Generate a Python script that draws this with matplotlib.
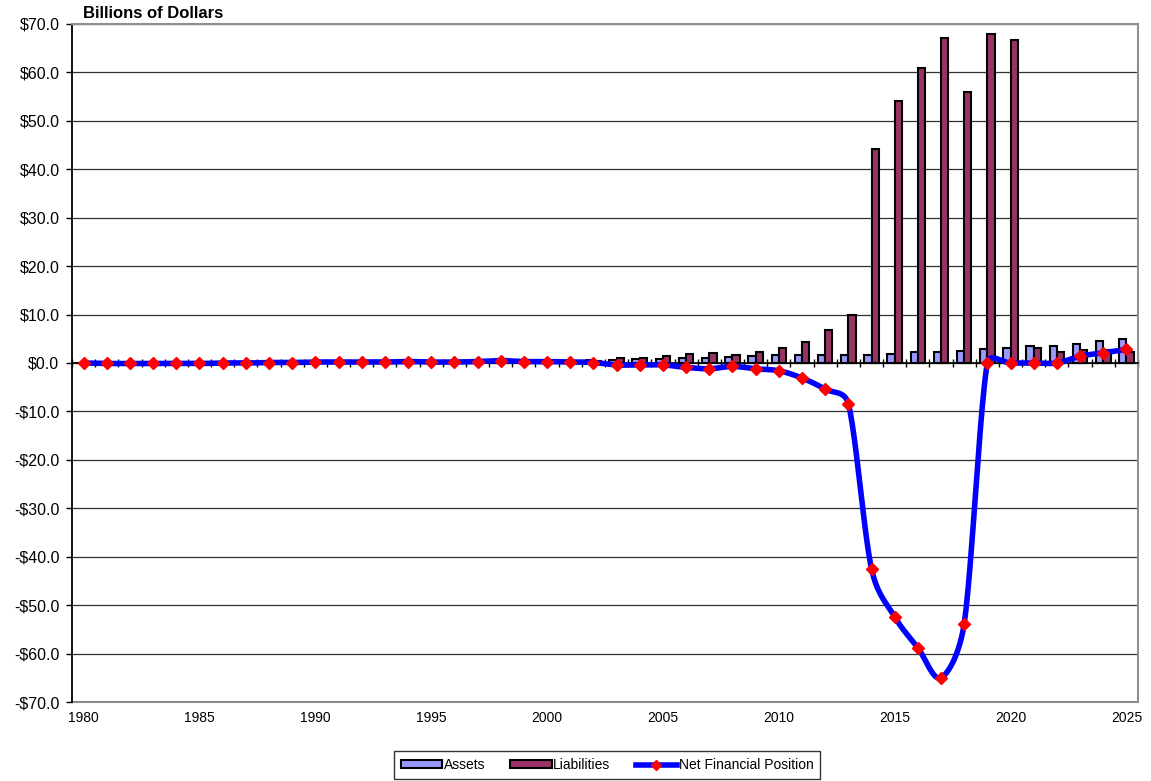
import numpy as np
import matplotlib
matplotlib.use('Agg')
import matplotlib.pyplot as plt
from matplotlib.ticker import FixedLocator, FuncFormatter
from matplotlib.patches import Patch
from matplotlib.lines import Line2D

plt.rcParams['font.family'] = ['Liberation Sans', 'DejaVu Sans']

years = list(range(1980, 2026))
assets = [0.1, 0.1, 0.1, 0.1, 0.1, 0.1, 0.1, 0.1, 0.1, 0.1,
          0.2, 0.2, 0.2, 0.2, 0.2, 0.2, 0.2, 0.3, 0.3, 0.3,
          0.4, 0.5, 0.6, 0.6, 0.75, 0.9, 1.0, 1.0, 1.2, 1.4,
          1.65, 1.65, 1.65, 1.65, 1.7, 1.9, 2.2, 2.2, 2.4, 2.8,
          3.0, 3.5, 3.5, 4.0, 4.5, 4.9]
liabilities = [0.1, 0.1, 0.1, 0.1, 0.1, 0.1, 0.1, 0.1, 0.1, 0.1,
               0.1, 0.1, 0.1, 0.1, 0.1, 0.1, 0.1, 0.1, 0.1, 0.1,
               0.2, 0.3, 0.5, 1.0, 1.0, 1.4, 1.9, 2.1, 1.65, 2.3,
               3.0, 4.4, 6.9, 10.0, 44.2, 54.2, 60.9, 67.2, 56.0, 67.9,
               66.7, 3.0, 2.3, 2.6, 2.6, 2.3]
net = [0.0, -0.1, -0.1, -0.1, -0.1, -0.1, 0.0, 0.0, 0.1, 0.1,
       0.2, 0.2, 0.2, 0.2, 0.3, 0.2, 0.2, 0.3, 0.5, 0.3,
       0.3, 0.2, 0.1, -0.4, -0.4, -0.4, -0.9, -1.2, -0.7, -1.2,
       -1.6, -3.1, -5.4, -8.4, -42.5, -52.4, -58.8, -65.0, -53.8, 0.0,
       0.0, 0.0, 0.0, 1.4, 2.1, 2.8]


def smooth(x, y, sx=23.17, sy=4.84, n=24):
    # bezier smoothing like excel's smoothed line, control arms capped at half a segment
    x = np.asarray(x, float) * sx
    y = np.asarray(y, float) * sy
    px = np.concatenate([[x[0]], x, [x[-1]]])
    py = np.concatenate([[y[0]], y, [y[-1]]])
    t = np.linspace(0, 1, n)
    ox, oy = [], []

    def arm(cx, cy, seg):
        L = np.hypot(cx, cy)
        if L > 0.5 * seg:
            k = 0.5 * seg / L
            return cx * k, cy * k
        return cx, cy

    for i in range(len(x) - 1):
        x0, y0 = px[i + 1], py[i + 1]
        x3, y3 = px[i + 2], py[i + 2]
        seg = np.hypot(x3 - x0, y3 - y0)
        c1x, c1y = arm((px[i + 2] - px[i]) / 6, (py[i + 2] - py[i]) / 6, seg)
        c2x, c2y = arm((px[i + 3] - px[i + 1]) / 6, (py[i + 3] - py[i + 1]) / 6, seg)
        x1, y1 = x0 + c1x, y0 + c1y
        x2, y2 = x3 - c2x, y3 - c2y
        bx = (1-t)**3*x0 + 3*(1-t)**2*t*x1 + 3*(1-t)*t**2*x2 + t**3*x3
        by = (1-t)**3*y0 + 3*(1-t)**2*t*y1 + 3*(1-t)*t**2*y2 + t**3*y3
        ox.extend(bx / sx)
        oy.extend(by / sy)
    return ox, oy


fig = plt.figure(figsize=(11.51, 7.81), dpi=100)
ax = fig.add_axes([72/1151, 1-702/781, (1138-72)/1151, (702-24)/781])

idx = np.arange(len(years))
bw = 0.315
ax.bar(idx - bw/2, assets, bw, color='#9999FF', edgecolor='black', linewidth=1.5, zorder=2)
ax.bar(idx + bw/2, liabilities, bw, color='#993366', edgecolor='black', linewidth=1.5, zorder=2)

sx, sy = smooth(idx, net)
ax.plot(sx, sy, color='#0000FF', lw=4, zorder=3, solid_capstyle='round')
ax.plot(idx, net, ls='none', marker='D', color='#FF0000', markersize=6.5, zorder=4)

ax.set_xlim(-0.5, len(years) - 0.5)
ax.set_ylim(-70, 70)
ax.set_yticks(np.arange(-70, 71, 10))
ax.yaxis.set_major_formatter(FuncFormatter(lambda v, p: ('-$%.1f' % -v) if v < 0 else '$%.1f' % v))
ax.yaxis.grid(True, color='#303030', lw=0.9, zorder=0)
ax.set_axisbelow(True)
ax.tick_params(axis='y', direction='out', length=4, width=1, labelsize=11.5, pad=5)

# category axis crosses at zero
ax.spines['bottom'].set_position(('data', 0))
ax.spines['bottom'].set_linewidth(1.2)
ax.xaxis.set_major_locator(FixedLocator(np.arange(-0.5, len(years), 1)))
ax.tick_params(axis='x', direction='inout', length=6, width=1, labelbottom=False)
for s in ['top', 'right']:
    ax.spines[s].set_color('#909090')
    ax.spines[s].set_linewidth(1.5)
ax.spines['left'].set_linewidth(1.3)

lab = ax.secondary_xaxis(0.0)
lab.set_xticks(idx[::5])
lab.set_xticklabels([str(y) for y in years[::5]])
lab.tick_params(length=0, labelsize=10, pad=6.5)
lab.spines['bottom'].set_color('#909090')
lab.spines['bottom'].set_linewidth(1.5)

fig.text(83/1151, 1-14/781, 'Billions of Dollars', fontsize=12, fontweight='bold', va='center', ha='left')

handles = [Patch(facecolor='#9999FF', edgecolor='black', linewidth=1.5),
           Patch(facecolor='#993366', edgecolor='black', linewidth=1.5),
           Line2D([], [], color='#0000FF', lw=4, marker='D', markerfacecolor='#FF0000',
                  markeredgecolor='#FF0000', markersize=5)]
leg = fig.legend(handles, ['Assets', 'Liabilities', 'Net Financial Position'],
                 loc='center', bbox_to_anchor=(607/1151, 1-765/781), ncol=3, frameon=True,
                 fancybox=False, edgecolor='black', fontsize=10, handlelength=3.0,
                 handleheight=0.45, handletextpad=0.1, columnspacing=1.8, borderpad=0.5)
leg.get_frame().set_linewidth(1.0)

fig.savefig('out.png', dpi=100)
